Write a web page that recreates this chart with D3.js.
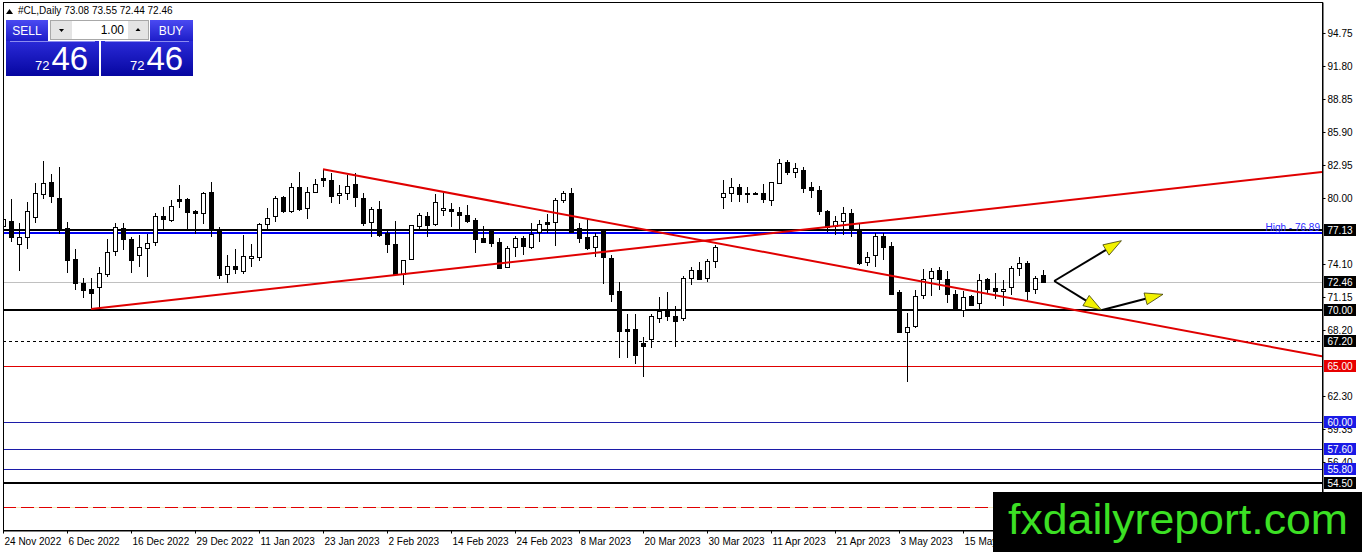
<!DOCTYPE html>
<html>
<head>
<meta charset="utf-8">
<style>
  body { margin: 0; background: #fff; }
  svg { display: block; font-family: "Liberation Sans", Arial, sans-serif; }
</style>
</head>
<body>
<script src="https://cdn.jsdelivr.net/npm/d3@7/dist/d3.min.js"></script>
<script>
// daily candles, #CL (oil), 24 Nov 2022 onwards
var opens = [77.50,77.94,75.86,76.49,78.24,80.33,81.43,79.97,77.29,74.55,72.37,71.84,72.01,73.20,75.20,77.29,76.31,74.84,75.50,76.04,
  78.39,78.03,79.91,79.91,78.84,78.72,80.51,77.23,73.20,73.92,73.47,74.66,74.70,77.67,78.33,80.06,78.77,80.96,79.08,80.51,
  81.76,81.61,80.20,80.42,81.25,79.97,77.79,78.99,76.84,75.89,73.20,74.52,77.50,78.39,77.67,78.93,78.99,78.75,78.48,78.03,
  76.45,77.14,76.09,73.86,75.56,76.40,75.59,76.99,77.88,77.83,79.88,80.47,77.29,76.49,75.59,77.05,74.66,71.71,68.26,68.26,
  67.01,67.46,69.33,69.92,69.48,69.33,72.82,73.56,72.91,74.37,80.06,80.42,80.96,80.47,80.42,80.42,79.76,81.37,83.24,82.26,
  82.50,80.96,80.71,78.86,77.50,77.94,78.63,77.14,74.30,74.90,76.60,75.71,71.57,68.05,68.56,71.26,72.82,73.56,72.73,71.39,
  70.05,71.26,70.59,72.73,71.93,71.62,72.01,73.71,74.22,71.84,73.08];
var highs = [78.30,79.91,77.74,79.61,81.31,83.31,82.14,82.80,77.88,75.44,72.87,72.87,73.86,76.31,77.74,77.74,76.49,76.69,76.75,78.63,
  79.22,79.82,81.16,80.00,78.93,80.56,81.40,77.43,74.90,75.41,76.69,75.89,77.79,79.13,80.18,80.20,81.31,82.30,80.96,81.67,
  82.56,82.26,81.16,82.06,82.26,80.42,79.22,79.76,77.14,77.97,74.46,77.56,78.63,78.77,80.33,80.42,79.58,79.17,79.37,78.18,
  77.50,77.14,76.40,75.71,76.60,76.60,77.79,78.03,78.57,79.97,80.65,80.87,77.79,78.09,76.84,77.14,74.90,72.52,69.63,69.63,
  67.60,69.60,71.17,71.57,70.34,73.03,73.86,74.30,74.52,75.80,81.61,81.76,81.25,81.01,80.54,81.25,81.46,83.46,83.40,83.10,
  82.80,81.40,81.07,78.90,78.39,79.22,78.99,77.74,75.20,76.84,76.84,76.09,71.77,69.74,71.77,73.63,73.71,73.86,73.50,71.77,
  71.71,71.33,73.20,72.87,73.32,72.67,73.92,74.70,74.37,73.03,73.55];
var lows = [77.32,76.09,73.50,75.44,77.79,79.88,79.58,76.78,73.32,71.77,71.03,70.08,70.14,72.96,74.81,75.35,73.27,73.80,72.91,75.73,
  77.05,77.88,79.08,77.23,76.75,77.65,76.54,72.73,72.37,73.18,73.18,73.80,74.39,77.14,77.88,78.63,78.63,78.84,78.09,80.42,
  81.01,79.58,79.44,79.82,79.17,77.50,76.49,76.49,75.06,73.15,72.22,74.46,77.14,76.49,77.50,78.39,77.43,77.23,77.79,75.11,
  76.00,75.65,73.71,73.80,74.75,74.90,75.41,76.09,76.84,75.71,79.52,76.95,76.00,75.35,74.70,72.31,70.73,65.67,65.67,65.16,
  64.02,66.56,68.85,69.03,66.71,69.03,72.22,72.67,72.52,73.71,78.99,79.67,79.67,79.58,80.31,79.52,79.28,81.31,82.06,81.76,
  80.42,79.97,78.48,76.99,76.69,76.69,76.54,74.01,73.95,73.86,74.46,71.33,67.90,63.58,68.40,70.97,71.26,71.77,70.59,69.99,
  69.33,70.34,70.05,71.48,70.94,70.34,71.33,73.03,70.88,71.42,72.44];
var closes = [78.09,76.49,76.49,78.84,80.42,81.31,80.20,77.23,74.39,72.37,71.71,71.44,73.27,75.14,77.38,76.31,74.39,75.59,75.95,78.39,
  78.12,79.28,79.76,78.77,78.63,80.47,77.14,73.12,73.92,73.65,74.81,74.81,77.67,78.18,79.97,78.77,80.96,78.99,80.51,81.25,
  81.55,80.20,80.42,81.07,80.12,77.74,78.99,76.69,75.89,73.20,74.46,77.56,78.45,77.59,79.67,79.10,78.77,78.48,77.97,76.31,
  76.09,76.00,73.77,75.56,76.40,75.71,76.78,77.67,77.74,79.82,80.47,76.99,76.40,75.50,76.60,74.70,71.48,68.14,68.11,65.96,
  66.71,69.48,69.92,69.48,69.03,72.87,73.56,72.73,74.39,75.59,80.42,80.96,80.33,80.36,80.42,79.88,81.40,83.15,82.35,82.65,
  80.87,80.71,78.86,77.43,77.94,78.63,77.29,74.16,74.75,76.60,75.65,71.42,67.99,68.49,71.26,72.73,73.47,72.73,71.39,70.02,
  71.17,70.43,72.67,71.84,71.62,71.84,73.71,74.16,71.71,72.82,72.46];

// time axis: a label every 8 bars
var dateTicks = [0,8,16,24,32,40,48,56,64,72,80,88,96,104,112,120];
var dateLabels = ["24 Nov 2022","6 Dec 2022","16 Dec 2022","29 Dec 2022","11 Jan 2023","23 Jan 2023","2 Feb 2023",
  "14 Feb 2023","24 Feb 2023","8 Mar 2023","20 Mar 2023","30 Mar 2023","11 Apr 2023","21 Apr 2023","3 May 2023",
  "15 May 2023"];

// visible price scale ticks (77.05 and 65.25 sit under the level tags)
var priceTicks = [94.75,91.80,88.85,85.90,82.95,80.00,74.10,71.15,68.20,62.30,59.35,56.40];

// horizontal levels
var blackLevels = [77.13, 70.00, 54.50];
var blueLevels = [60.00, 57.60, 55.80];
var dashLevel = 67.20;
var redLevel = 65.00;
var lastPrice = 72.46;
var highLevel = 76.89;
var redDashLevel = 52.37;

// trend lines [bar, price]
var trendUp = [[11, 70.08], [164.875, 82.33]];
var trendDown = [[40, 82.56], [164.875, 65.84]];

// yellow arrows [bar, price] -> [bar, price]
var arrows = [
  [[131.4, 72.58], [139.8, 76.18]],
  [[131.4, 72.58], [137.3, 69.99]],
  [[137.4, 69.99], [145.0, 71.39]]
];

var width = 1362, height = 552;
var pLeft = 3, pTop = 2, pRight = 1322, pBottom = 530;

var x = d3.scaleLinear().domain([0, 164.875]).range([pLeft, pRight]);
var y = d3.scaleLinear().domain([50.32, 97.52]).range([pBottom, pTop]);

var svg = d3.select("body").append("svg")
  .attr("width", width).attr("height", height);

svg.append("rect").attr("width", width).attr("height", height).attr("fill", "#fff");

var defs = svg.append("defs");
defs.append("clipPath").attr("id", "plotclip")
  .append("rect").attr("x", pLeft).attr("y", pTop).attr("width", pRight - pLeft).attr("height", pBottom - pTop);

var plot = svg.append("g").attr("clip-path", "url(#plotclip)");

function hline(v, color, w, dash) {
  var yy = Math.round(y(v)) + (w % 2 ? 0.5 : 0);
  plot.append("line")
    .attr("x1", pLeft).attr("x2", pRight)
    .attr("y1", yy).attr("y2", yy)
    .attr("stroke", color).attr("stroke-width", w)
    .attr("stroke-dasharray", dash || null)
    .attr("shape-rendering", "crispEdges");
}

hline(lastPrice, "#c0c0c0", 1);
hline(dashLevel, "#000", 1, "3,3");
hline(redLevel, "#e00000", 1);
blueLevels.forEach(function(v) { hline(v, "#1c1ca8", 1); });
hline(redDashLevel, "#f6e8b8", 1);
hline(redDashLevel, "#e00000", 1, "13,5");
blackLevels.forEach(function(v) { hline(v, "#000", 2); });
hline(highLevel, "#0000f0", 2);

plot.append("text")
  .attr("x", pRight - 2).attr("y", y(highLevel) - 2)
  .attr("text-anchor", "end").attr("font-size", 10).attr("fill", "#2a2aff")
  .text("High - 76.89");

// candles
var idx = d3.range(opens.length);
var candles = plot.append("g").attr("shape-rendering", "crispEdges");
candles.selectAll(".wick").data(idx).enter().append("line")
  .attr("x1", function(i) { return Math.round(x(i)) + 0.5; })
  .attr("x2", function(i) { return Math.round(x(i)) + 0.5; })
  .attr("y1", function(i) { return y(highs[i]); })
  .attr("y2", function(i) { return y(lows[i]); })
  .attr("stroke", "#000").attr("stroke-width", 1);
candles.selectAll(".body").data(idx).enter().append("rect")
  .attr("x", function(i) { return Math.round(x(i)) - 1.5; })
  .attr("y", function(i) { return Math.round(y(Math.max(opens[i], closes[i]))) + 0.5; })
  .attr("width", 4)
  .attr("height", function(i) { return Math.max(Math.round(Math.abs(y(opens[i]) - y(closes[i]))), 1); })
  .attr("fill", function(i) { return closes[i] >= opens[i] ? "#fff" : "#000"; })
  .attr("stroke", "#000").attr("stroke-width", 1);

// trend lines
[trendUp, trendDown].forEach(function(t) {
  plot.append("line")
    .attr("x1", x(t[0][0])).attr("y1", y(t[0][1]))
    .attr("x2", x(t[1][0])).attr("y2", y(t[1][1]))
    .attr("stroke", "#e00000").attr("stroke-width", 2);
});

// arrows
arrows.forEach(function(a) {
  var x0 = x(a[0][0]), y0 = y(a[0][1]), x1 = x(a[1][0]), y1 = y(a[1][1]);
  var dx = x1 - x0, dy = y1 - y0, len = Math.sqrt(dx * dx + dy * dy);
  var ux = dx / len, uy = dy / len, hl = 18, hw = 6;
  var bx = x1 - ux * hl, by = y1 - uy * hl;
  plot.append("line").attr("x1", x0).attr("y1", y0).attr("x2", bx).attr("y2", by)
    .attr("stroke", "#000").attr("stroke-width", 2);
  plot.append("polygon")
    .attr("points", [[x1, y1], [bx - uy * hw, by + ux * hw], [bx + uy * hw, by - ux * hw]].join(" "))
    .attr("fill", "#f2f200").attr("stroke", "#3a3a00").attr("stroke-width", 0.8);
});

// frame
svg.append("rect").attr("x", pLeft + 0.5).attr("y", pTop + 0.5)
  .attr("width", pRight - pLeft).attr("height", pBottom - pTop)
  .attr("fill", "none").attr("stroke", "#000").attr("stroke-width", 1);

// price axis
var yAxis = svg.append("g").attr("transform", "translate(" + (pRight + 0.5) + ",0)")
  .call(d3.axisRight(y).tickValues(priceTicks).tickSize(3).tickSizeOuter(0).tickPadding(2)
    .tickFormat(d3.format(".2f")));
yAxis.selectAll("text").attr("font-size", 10).attr("font-family", "Liberation Sans, Arial").attr("fill", "#000");
yAxis.select(".domain").attr("stroke", "#000");

// time axis
var xAxis = svg.append("g").attr("transform", "translate(0," + (pBottom + 0.5) + ")")
  .call(d3.axisBottom(x).tickValues(dateTicks).tickSize(3).tickSizeOuter(0).tickPadding(4)
    .tickFormat(function(d, i) { return dateLabels[i]; }));
xAxis.selectAll("text").attr("text-anchor", "start").attr("x", 1)
  .attr("font-size", 10).attr("font-family", "Liberation Sans, Arial").attr("fill", "#000");

// level labels on the price scale
function tag(v, bg) {
  var g = svg.append("g").attr("transform", "translate(" + (pRight + 2) + "," + Math.round(y(v)) + ")");
  g.append("rect").attr("x", 0).attr("y", -6).attr("width", 32).attr("height", 12).attr("fill", bg);
  g.append("text").attr("x", 16).attr("y", 4).attr("text-anchor", "middle")
    .attr("font-size", 10).attr("fill", "#fff").text(d3.format(".2f")(v));
}
tag(blackLevels[0], "#000");
tag(lastPrice, "#000");
tag(blackLevels[1], "#000");
tag(dashLevel, "#000");
tag(redLevel, "#e80000");
blueLevels.forEach(function(v) { tag(v, "#1a1ae6"); });
tag(blackLevels[2], "#000");

// header
svg.append("path").attr("d", "M6,14 L9.5,9 L13,14 Z").attr("fill", "#000");
svg.append("text").attr("x", 18).attr("y", 14).attr("font-size", 10).attr("fill", "#000")
  .text("#CL,Daily  73.08 73.55 72.44 72.46");

// one-click trading panel
var g1 = defs.append("linearGradient").attr("id", "btn").attr("x1", 0).attr("y1", 0).attr("x2", 0).attr("y2", 1);
g1.append("stop").attr("offset", 0).attr("stop-color", "#4a4af2");
g1.append("stop").attr("offset", 1).attr("stop-color", "#1d1dc8");
var g2 = defs.append("linearGradient").attr("id", "pbox").attr("x1", 0).attr("y1", 0).attr("x2", 0).attr("y2", 1);
g2.append("stop").attr("offset", 0).attr("stop-color", "#2a2ad8");
g2.append("stop").attr("offset", 1).attr("stop-color", "#0606a0");

var panel = svg.append("g");
panel.append("rect").attr("x", 6).attr("y", 20).attr("width", 42).attr("height", 21).attr("fill", "url(#btn)");
panel.append("text").attr("x", 27).attr("y", 35).attr("text-anchor", "middle").attr("font-size", 12)
  .attr("fill", "#fff").text("SELL");
panel.append("rect").attr("x", 150).attr("y", 20).attr("width", 43).attr("height", 21).attr("fill", "url(#btn)");
panel.append("text").attr("x", 171).attr("y", 35).attr("text-anchor", "middle").attr("font-size", 12)
  .attr("fill", "#fff").text("BUY");
panel.append("rect").attr("x", 50.5).attr("y", 20.5).attr("width", 98).attr("height", 19)
  .attr("fill", "#fff").attr("stroke", "#a8a8a8");
panel.append("rect").attr("x", 51).attr("y", 21).attr("width", 21).attr("height", 18).attr("fill", "#e4e4e4");
panel.append("rect").attr("x", 128).attr("y", 21).attr("width", 20).attr("height", 18).attr("fill", "#e4e4e4");
panel.append("path").attr("d", "M59,29 L64,29 L61.5,32 Z").attr("fill", "#000");
panel.append("path").attr("d", "M135.5,31 L140.5,31 L138,28 Z").attr("fill", "#000");
panel.append("text").attr("x", 124).attr("y", 34).attr("text-anchor", "end").attr("font-size", 12)
  .attr("fill", "#000").text("1.00");

[[6, 93], [101, 92]].forEach(function(b) {
  panel.append("rect").attr("x", b[0]).attr("y", 41).attr("width", b[1]).attr("height", 35).attr("fill", "url(#pbox)");
  panel.append("line").attr("x1", b[0] + 4).attr("x2", b[0] + b[1] - 4).attr("y1", 41.5).attr("y2", 41.5)
    .attr("stroke", "#8c8cf0").attr("stroke-width", 1);
  var t = panel.append("text").attr("x", b[0] + 29).attr("y", 70).attr("fill", "#fff");
  t.append("tspan").attr("font-size", 13).text("72");
  t.append("tspan").attr("font-size", 33).attr("dx", 2).text("46");
});

// watermark
svg.append("rect").attr("x", 993).attr("y", 492).attr("width", 369).attr("height", 60).attr("fill", "#000");
svg.append("text").attr("x", 1008).attr("y", 534).attr("font-size", 42)
  .attr("textLength", 340).attr("lengthAdjust", "spacingAndGlyphs")
  .attr("fill", "#3ce024").text("fxdailyreport.com");
</script>
</body>
</html>
